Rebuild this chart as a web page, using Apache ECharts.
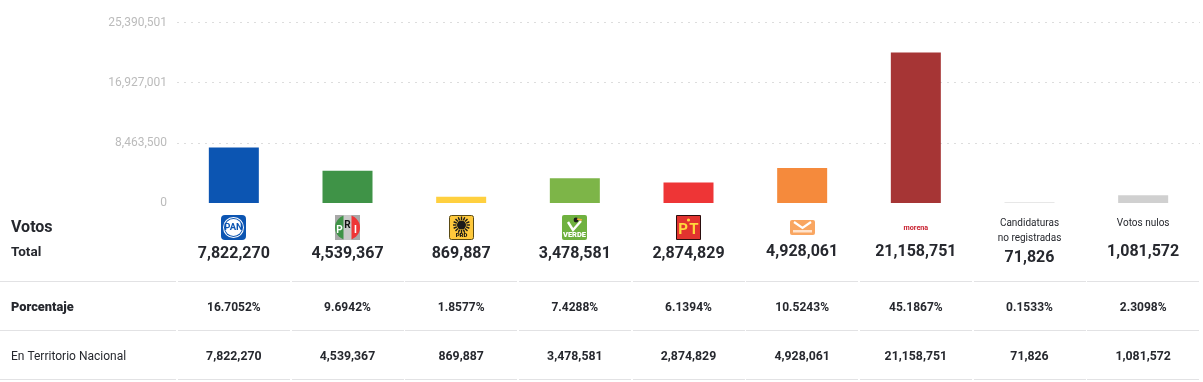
<!DOCTYPE html>
<html>
<head>
<meta charset="utf-8">
<style>html,body{margin:0;padding:0;background:#fff}#c{width:1203px;height:382px}</style>
<script src="https://cdn.jsdelivr.net/npm/echarts@6/dist/echarts.min.js"></script>
</head>
<body>
<div id="c"></div>
<script>
const parties = ['PAN','PRI','PRD','VERDE','PT','MC','morena','Candidaturas no registradas','Votos nulos'];
const votes = [7822270,4539367,869887,3478581,2874829,4928061,21158751,71826,1081572];
const percents = ['16.7052%','9.6942%','1.8577%','7.4288%','6.1394%','10.5243%','45.1867%','0.1533%','2.3098%'];
const colors = ['#0C55B2','#3F9347','#FFD03F','#7DB548','#EE3536','#F58A3C','#A63535','#D0D0D0','#D0D0D0'];
const axisMax = 25390501;
const ink = '#26282E';
const font = 'Roboto';
const fmt = v => Math.round(v).toLocaleString('en-US');

const chart = echarts.init(document.getElementById('c'), null, {renderer:'canvas'});
chart.setOption({
  animation:false,
  backgroundColor:'#fff',
  grid:{left:177,right:3,top:22.5,bottom:179,containLabel:false},
  xAxis:{type:'category',data:parties,axisLine:{show:false},axisTick:{show:false},axisLabel:{show:false}},
  yAxis:{type:'value',min:0,max:axisMax,interval:axisMax/3,
    axisLine:{show:false},axisTick:{show:false},
    axisLabel:{margin:10,color:'#BBBBBB',fontFamily:font,fontSize:12,formatter:fmt},
    splitLine:{showMinLine:false,lineStyle:{color:'#DDDDDD',type:[2,5],width:1}}},
  series:[{type:'bar',barWidth:50,data:votes.map((v,i)=>({value:v,itemStyle:{color:colors[i]}}))}]
});

const cx = parties.map((p,i)=>chart.convertToPixel({xAxisIndex:0},i));
const txt = (x,y,s,size,weight,align,color,extra) => ({type:'text',x,y,silent:true,style:Object.assign({
  text:s,fontFamily:font,fontSize:size,fontWeight:weight,fill:color||ink,align:align||'center',verticalAlign:'middle'},extra||{})});
const rect = (x,y,w,h,fill,r,extra) => ({type:'rect',silent:true,shape:{x,y,width:w,height:h,r:r||0},style:Object.assign({fill},extra||{})});

const g = [];
// row rules
[281,330,379].forEach(y=>{
  g.push(rect(0,y,176,1,'#E2E2E4'));
  cx.forEach(x=>g.push(rect(Math.round(x-56),y,112,1,'#E2E2E4')));
});
// row headers
g.push(txt(11,228,'Votos',16,700,'left'));
g.push(txt(11,252.5,'Total',13.5,700,'left'));
g.push(txt(11,307.5,'Porcentaje',12.8,900,'left'));
g.push(txt(11,357,'En Territorio Nacional',12,400,'left'));
// row values
const totalY = [254,254,254,254,254,251.5,251.5,257.5,251.5];
votes.forEach((v,i)=>{
  g.push(txt(cx[i],totalY[i],fmt(v),16,700));
  g.push(txt(cx[i],307.5,percents[i],12,700));
  g.push(txt(cx[i],357,fmt(v),12.3,700));
});
// party marks
const L = (i,y=215) => [Math.round(cx[i]-12.5),y];
{ const [x,y]=L(0);
  g.push(rect(x,y,25,25,'#0C55B2',4));
  g.push({type:'circle',silent:true,shape:{cx:x+12.5,cy:y+12.5,r:10.5},style:{fill:'#fff'}});
  g.push({type:'circle',silent:true,shape:{cx:x+12.5,cy:y+12.5,r:9.5},style:{fill:'#0C55B2'}});
  g.push({type:'circle',silent:true,shape:{cx:x+12.5,cy:y+12.5,r:8.5},style:{fill:'#fff'}});
  g.push(txt(x+12.5,y+13,'PAN',9.5,700,'center','#0C55B2',{width:20}));
}
{ const [x,y]=L(1);
  g.push(rect(x,y,25,25,'#A8A8A8'));
  g.push({type:'sector',silent:true,shape:{cx:x+12.5,cy:y+12.5,r:12.5,startAngle:Math.PI/2,endAngle:Math.PI*1.5},style:{fill:'#3F9347'}});
  g.push({type:'sector',silent:true,shape:{cx:x+12.5,cy:y+12.5,r:12.5,startAngle:-Math.PI/2,endAngle:Math.PI/2},style:{fill:'#EE3536'}});
  g.push(rect(x+8.5,y,8,25,'#C9C9C9'));
  g.push(txt(x+4.5,y+15,'P',10,700,'center','#fff'));
  g.push(txt(x+12.5,y+10,'R',10,700,'center','#111'));
  g.push(txt(x+20.5,y+15,'I',10,700,'center','#fff'));
}
{ const [x,y]=L(2);
  g.push(rect(x+0.5,y+0.5,24,24,'#FFC93C',2,{stroke:'#5A4A14',lineWidth:1}));
  for(let a=0;a<16;a++){const t=a*Math.PI/8;
    g.push({type:'line',silent:true,shape:{x1:x+12.5+Math.cos(t)*5,y1:y+10+Math.sin(t)*5,x2:x+12.5+Math.cos(t)*8.5,y2:y+10+Math.sin(t)*8.5},style:{stroke:'#1A1A1A',lineWidth:1.4}});}
  g.push({type:'circle',silent:true,shape:{cx:x+12.5,cy:y+10,r:4.5},style:{fill:'#1A1A1A'}});
  g.push(txt(x+12.5,y+20.5,'PRD',6,900,'center','#111'));
}
{ const [x,y]=L(3);
  g.push(rect(x,y,25,25,'#6FB13F',2));
  g.push({type:'polyline',silent:true,shape:{points:[[x+6,y+7],[x+11,y+15],[x+19,y+6]]},style:{stroke:'#fff',lineWidth:2.4,fill:'none'}});
  g.push({type:'circle',silent:true,shape:{cx:x+14,cy:y+5,r:2.4},style:{fill:'#1A1A1A'}});
  g.push({type:'line',silent:true,shape:{x1:x+15,y1:y+4,x2:x+20,y2:y+5},style:{stroke:'#F2A93B',lineWidth:1.6}});
  g.push(txt(x+12.5,y+20.5,'VERDE',7.5,900,'center','#fff'));
}
{ const [x,y]=L(4);
  g.push(rect(x+0.5,y+0.5,24,24,'#E2332F',0,{stroke:'#2A0E0E',lineWidth:1}));
  g.push({type:'circle',silent:true,shape:{cx:x+12.5,cy:y+5,r:1.6},style:{fill:'#FFD83C'}});
  g.push(txt(x+7,y+15,'P',15,700,'center','#FFD83C'));
  g.push(txt(x+18,y+15,'T',15,700,'center','#FFD83C'));
}
{ const [x,y]=[Math.round(cx[5]-12.5),220];
  g.push(rect(x,y,25,15,'#F9A661',2));
  g.push({type:'polyline',silent:true,shape:{points:[[x+4,y+2],[x+12.5,y+8],[x+21,y+2]]},style:{stroke:'#fff',lineWidth:2.2,fill:'none'}});
  g.push(rect(x+3,y+10,19,2.5,'#FFE3CC'));
}
g.push(txt(cx[6],228,'morena',7.2,700,'center','#C8202F'));
g.push(txt(cx[7],223,'Candidaturas',10,400));
g.push(txt(cx[7],238,'no registradas',10,400));
g.push(txt(cx[8],223,'Votos nulos',10,400));
chart.setOption({graphic:{elements:g}});
</script>
</body>
</html>
